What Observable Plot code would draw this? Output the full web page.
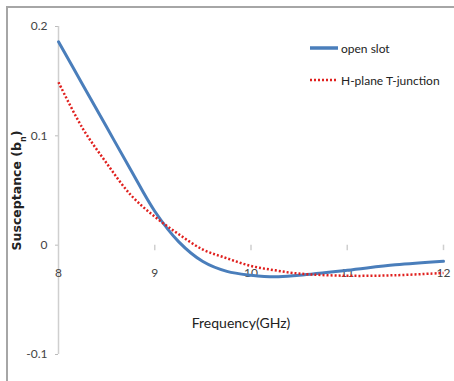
<!DOCTYPE html>
<html>
<head>
<meta charset="utf-8">
<script src="https://cdn.jsdelivr.net/npm/d3@7"></script>
<script src="https://cdn.jsdelivr.net/npm/@observablehq/plot@0.6"></script>
<style>
  html, body { margin: 0; padding: 0; background: #fff; }
  #wrap { position: relative; width: 454px; height: 381px; overflow: hidden; }
  #border { position: absolute; left: 6px; top: 6px; width: 470px; height: 400px; border: 2px solid #a6a6a6; box-sizing: border-box; }
  #chart { position: absolute; left: 0; top: 0; }
  #legend { position: absolute; left: 309px; top: 38px; font-family: Lato, "Liberation Sans", sans-serif; font-size: 12px; color: #222; }
  .item { display: flex; align-items: center; height: 20px; margin-bottom: 12px; }
  .item svg { margin-right: 2px; }
</style>
</head>
<body>
<div id="wrap">
  <div id="border"></div>
  <div id="chart"></div>
  <div id="legend"></div>
</div>
<script>
const freq = [8, 8.25, 8.5, 8.75, 9, 9.25, 9.5, 9.75, 10, 10.25, 10.5, 11, 11.5, 12];
const openSlot = [0.186, 0.147, 0.108, 0.069, 0.031, 0.003, -0.015, -0.024, -0.0275, -0.029, -0.0275, -0.023, -0.018, -0.0147];
const hPlane = [0.149, 0.107, 0.075, 0.046, 0.026, 0.010, -0.004, -0.012, -0.019, -0.023, -0.026, -0.028, -0.0275, -0.0254];
const seriesNames = ["open slot", "H-plane T-junction"];
const seriesColors = ["#4a7ebb", "#e0201e"];
const xTicks = [8, 9, 10, 11, 12];
const yTicks = [-0.1, 0, 0.1, 0.2];

const rows = [];
freq.forEach((f, i) => {
  rows.push({f, v: openSlot[i], s: seriesNames[0]});
  rows.push({f, v: hPlane[i], s: seriesNames[1]});
});

const font = 'Lato, "Liberation Sans", sans-serif';

const plot = Plot.plot({
  width: 454,
  height: 381,
  marginLeft: 58,
  marginRight: 11,
  marginTop: 26,
  marginBottom: 27,
  style: {fontFamily: font, fontSize: "12px", color: "#333", background: "transparent"},
  x: {domain: [8, 12]},
  y: {domain: [-0.1, 0.2]},
  marks: [
    Plot.axisY({ticks: yTicks, tickFormat: d => d === 0 ? "0" : String(d), tickSize: 3, tickPadding: 8, stroke: "#bbb", label: null, fill: "#444"}),
    Plot.axisX({ticks: [], label: null}),
    Plot.ruleX([8], {y1: -0.1, y2: 0.2, stroke: "#cfcfcf", strokeWidth: 1.5}),
    Plot.ruleX(xTicks.slice(1), {x: d => d, y1: 0, y2: -0.005, stroke: "#cfcfcf", strokeWidth: 1.5}),
    Plot.text(xTicks, {x: d => d, y: 0, dy: 28, text: d => String(d), fill: "#444", fontSize: 12}),
    Plot.line(rows.filter(d => d.s === seriesNames[0]), {x: "f", y: "v", stroke: seriesColors[0], strokeWidth: 3, curve: "catmull-rom"}),
    Plot.line(rows.filter(d => d.s === seriesNames[1]), {x: "f", y: "v", stroke: seriesColors[1], strokeWidth: 2.5, strokeDasharray: "2,2", strokeLinecap: "butt", curve: "catmull-rom"}),
    Plot.text(["Susceptance (b"], {frameAnchor: "left", dx: -42, dy: 0, rotate: -90, textAnchor: "middle", text: d => d, fontFamily: '"DejaVu Sans", sans-serif', fontWeight: "bold", fontSize: 12.5, fill: "#222", className: "ytitle"}),
    Plot.text(["Frequency(GHz)"], {frameAnchor: "bottom", dx: -10, dy: -27, text: d => d, fontSize: 14, fill: "#222"})
  ]
});
document.getElementById("chart").appendChild(plot);

// add subscript n to the y-axis title
d3.select(plot).selectAll(".ytitle text").each(function() {
  const t = d3.select(this);
  t.text(null);
  t.append("tspan").text("Susceptance (b");
  t.append("tspan").attr("font-size", 8).attr("baseline-shift", "sub").text("n");
  t.append("tspan").text(")");
});

const legend = document.getElementById("legend");
seriesNames.forEach((name, i) => {
  const div = document.createElement("div");
  div.className = "item";
  const dash = i === 1 ? 'stroke-dasharray="2,2"' : '';
  div.innerHTML = `<svg width="30" height="10"><line x1="1" y1="5" x2="29" y2="5" stroke="${seriesColors[i]}" stroke-width="${i === 0 ? 3.5 : 2.5}" ${dash}/></svg><span>${name}</span>`;
  legend.appendChild(div);
});
</script>
</body>
</html>
